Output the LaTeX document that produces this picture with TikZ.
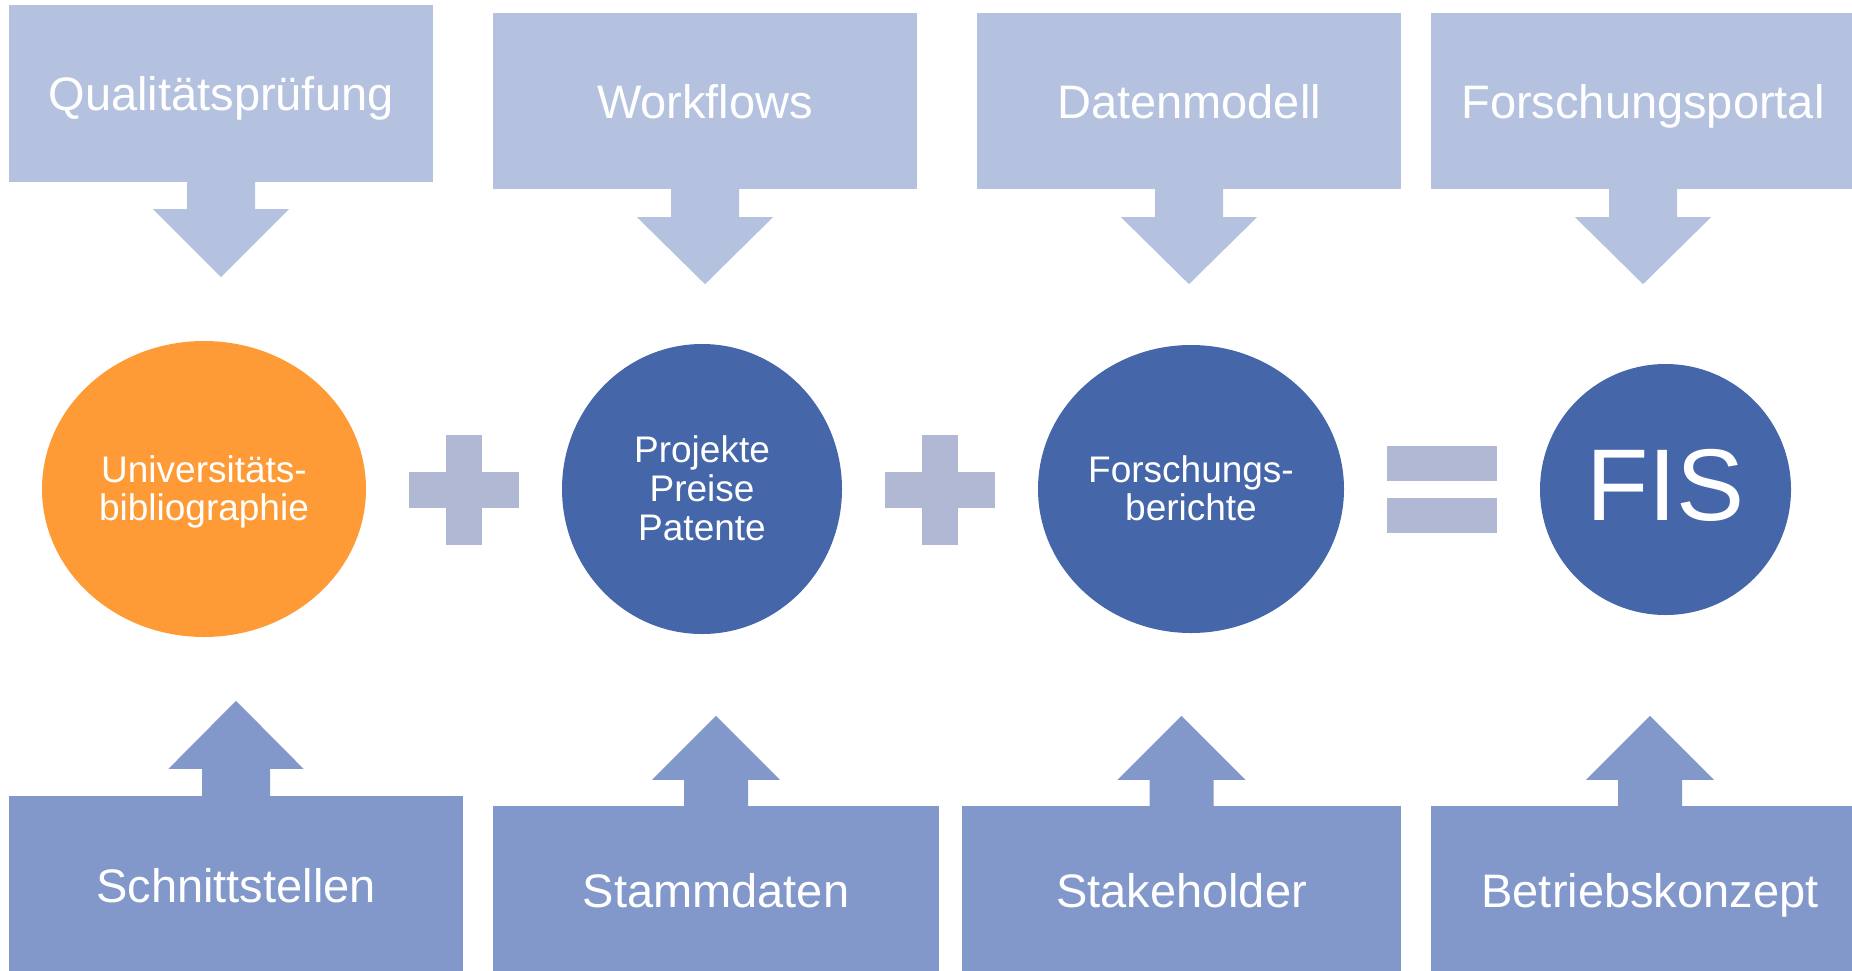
\documentclass[tikz,border=0pt]{standalone}
\usepackage{fontspec}
\setmainfont{Liberation Sans}
\usetikzlibrary{shapes.geometric}
\definecolor{topc}{HTML}{B4C2E0}
\definecolor{botc}{HTML}{8298CB}
\definecolor{circc}{HTML}{4666AA}
\definecolor{orangec}{HTML}{FE9B36}
\definecolor{opc}{HTML}{B0B8D4}
% arrow below a box: node, colour, stem length, half stem width, half head width, head length
\newcommand\arrowbelow[6]{%
  \fill[#2] ([xshift=-#4pt,yshift=1pt]#1.south) -- ++(0,#3+1) -- ++(-#5+#4,0)
    -- ++(#5,#6) -- ++(#5,-#6) -- ++(-#5+#4,0) -- ++(0,-#3-1) -- cycle;}
% arrow above a box
\newcommand\arrowabove[6]{%
  \fill[#2] ([xshift=-#4pt,yshift=-1pt]#1.north) -- ++(0,-#3-1) -- ++(-#5+#4,0)
    -- ++(#5,-#6) -- ++(#5,#6) -- ++(-#5+#4,0) -- ++(0,#3+1) -- cycle;}
\begin{document}
\begin{tikzpicture}[x=1pt,y=-1pt,
  box/.style={rectangle, inner sep=0pt, text=white,
    font=\fontsize{47}{56}\selectfont, text height=34pt, text depth=0pt},
  topbox/.style={box, fill=topc},
  botbox/.style={box, fill=botc},
  blob/.style={ellipse, inner sep=0pt, text=white, fill=circc, align=center,
    font=\fontsize{37}{38}\selectfont, text depth=0pt},
  opbar/.style={rectangle, fill=opc, inner sep=0pt},
]
\useasboundingbox (0,0) rectangle (1852,970);

% top callouts
\node[topbox, minimum width=424pt, minimum height=177pt] (qual) at (221,93.5) {Qualitätsprüfung};
\node[topbox, minimum width=424pt, minimum height=176pt] (work) at (705,101) {Workflows};
\node[topbox, minimum width=424pt, minimum height=176pt] (daten) at (1189,101) {Datenmodell};
\node[topbox, minimum width=424pt, minimum height=176pt] (portal) at (1643,101) {Forschungsportal};
\arrowbelow{qual}{topc}{27}{34}{68}{68}
\arrowbelow{work}{topc}{28}{34}{68}{67}
\arrowbelow{daten}{topc}{28}{34}{68}{67}
\arrowbelow{portal}{topc}{28}{34}{68}{67}

% bottom callouts
\node[botbox, minimum width=454pt, minimum height=179pt] (schnitt) at (236,885.5) {Schnittstellen};
\node[botbox, minimum width=446pt, minimum height=169pt] (stamm) at (716,890.5) {Stammdaten};
\node[botbox, minimum width=439pt, minimum height=169pt] (stake) at (1181.5,890.5) {Stakeholder};
\node[botbox, minimum width=438pt, minimum height=169pt] (betrieb) at (1650,890.5) {Betriebskonzept};
\arrowabove{schnitt}{botc}{27}{34}{67.5}{68}
\arrowabove{stamm}{botc}{26}{32}{64}{64}
\arrowabove{stake}{botc}{26}{32}{64}{64}
\arrowabove{betrieb}{botc}{26}{32}{64}{64}

% circles
\node[blob, fill=orangec, minimum width=324pt, minimum height=296pt, text height=62pt]
  (ub) at (204,489) {Universitäts-\\bibliographie};
\node[blob, minimum width=280pt, minimum height=290pt, text height=102pt, font=\fontsize{37}{39}\selectfont]
  (ppp) at (702,489) {Projekte\\Preise\\Patente};
\node[blob, minimum width=306pt, minimum height=288pt, text height=62pt]
  (fb) at (1191,489) {Forschungs-\\berichte};
\node[blob, minimum width=251pt, minimum height=251pt, font=\fontsize{102}{110}\selectfont,
  text height=73pt, text depth=11pt] (fis) at (1665.5,489.5) {FIS};

% operators
\node[opbar, minimum width=110pt, minimum height=36pt] (plusAh) at (464,489.5) {};
\node[opbar, minimum width=36pt, minimum height=110pt] (plusAv) at (464,489.5) {};
\node[opbar, minimum width=110pt, minimum height=36pt] (plusBh) at (940,489.5) {};
\node[opbar, minimum width=36pt, minimum height=110pt] (plusBv) at (940,489.5) {};
\node[opbar, minimum width=110pt, minimum height=35pt] (eqA) at (1442,463.5) {};
\node[opbar, minimum width=110pt, minimum height=35pt] (eqB) at (1442,515.5) {};
\end{tikzpicture}
\end{document}
